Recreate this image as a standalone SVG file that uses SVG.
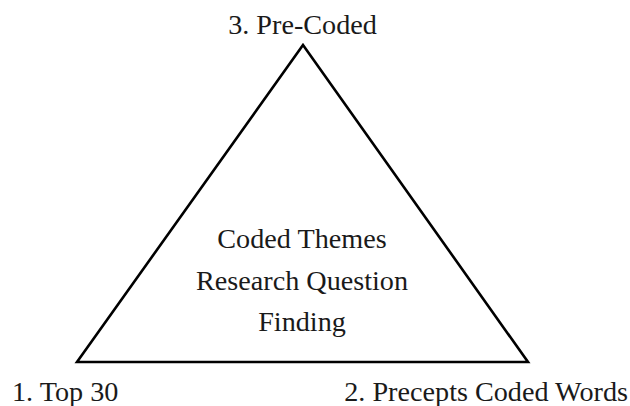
<svg xmlns="http://www.w3.org/2000/svg" width="630" height="406" viewBox="0 0 630 406">
<style>
text{font-family:'Liberation Serif',Tinos,'Times New Roman','DejaVu Serif',serif;font-size:28.2px;fill:#1a1a1a}
.edge{fill:none;stroke:#000;stroke-width:2.6;stroke-linejoin:miter}
</style>
<rect width="630" height="406" fill="#fff"/>
<g id="connectors">
<polygon class="edge" points="303,45 528,362 77,362"/>
</g>
<g id="node-precoded"><text x="302.5" y="34" text-anchor="middle">3. Pre-Coded</text></g>
<g id="node-top30"><text x="12" y="401">1. Top 30</text></g>
<g id="node-precepts"><text x="628" y="401" text-anchor="end">2. Precepts Coded Words</text></g>
<g id="node-center">
<text x="302" y="248" text-anchor="middle">Coded Themes</text>
<text x="302" y="290" text-anchor="middle">Research Question</text>
<text x="302" y="331" text-anchor="middle">Finding</text>
</g>
</svg>
